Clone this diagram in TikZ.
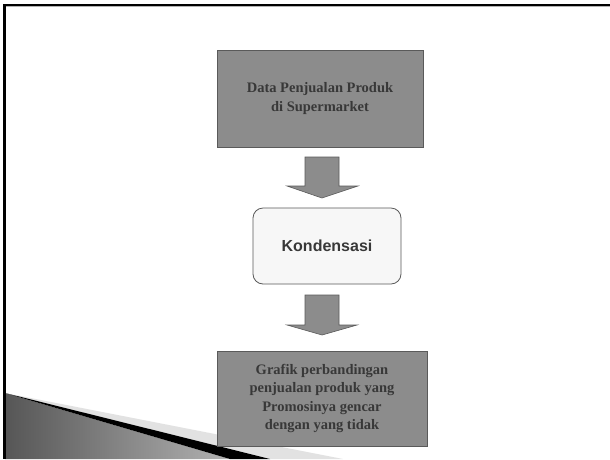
\documentclass[tikz,border=0pt]{standalone}
\usepackage{fontspec}
\setmainfont{Liberation Serif}
\newfontfamily\labelsans{Liberation Sans}
\definecolor{boxgray}{HTML}{8C8C8C}
\definecolor{edgegray}{HTML}{5A5A5A}
\definecolor{inkgray}{HTML}{383838}
\definecolor{softfill}{HTML}{F7F7F7}
\definecolor{wedgedark}{HTML}{565656}
\definecolor{wedgelight}{HTML}{B2B2B2}
\definecolor{stripelight}{HTML}{E2E2E2}
\tikzset{
  graybox/.style={draw=edgegray, line width=0.8pt, fill=boxgray, text=inkgray,
    align=center, inner sep=0pt,
    font=\fontsize{14.5}{18.5}\selectfont\bfseries},
  roundbox/.style={draw=edgegray, line width=0.8pt, fill=softfill, rounded corners=10pt,
    text=inkgray, inner sep=0pt, font=\labelsans\fontsize{16}{19}\selectfont\bfseries},
  blockarrow/.style={draw=edgegray, line width=0.6pt, fill=boxgray},
}
\begin{document}
\begin{tikzpicture}[x=1pt, y=-1pt]
  \useasboundingbox (0,0) rectangle (610,459);
  \fill[white] (0,0) rectangle (610,459);

  % decorative wedge in the lower left corner
  \shade[left color=wedgedark, right color=wedgelight]
    (5,393) -- (230,459) -- (5,459) -- cycle;
  \fill[stripelight] (5,393) -- (343,459) -- (270,459) -- cycle;
  \fill[black] (5,393) -- (270,459) -- (230,459) -- cycle;

  % slide frame
  \draw[black, line width=2pt] (3,5) -- (610,5);
  \draw[gray!60, line width=0.8pt] (6,6.8) -- (610,6.8);
  \draw[black, line width=3pt] (4.5,4) -- (4.5,459);

  % flow boxes
  \node[graybox, minimum width=206pt, minimum height=97pt] (data) at (320,98.5)
    {Data Penjualan Produk\\di Supermarket};
  \node[roundbox, minimum width=148pt, minimum height=76pt] (kond) at (327,246)
    {Kondensasi};
  \node[graybox, minimum width=210pt, minimum height=95pt] (grafik) at (322,398.5)
    {Grafik perbandingan\\penjualan produk yang\\Promosinya gencar\\dengan yang tidak};

  % block arrows between the boxes
  \draw[blockarrow] (305,157) -- (339,157) -- (339,186) -- (358,186) -- (322,198)
    -- (287,186) -- (305,186) -- cycle;
  \draw[blockarrow] (305,295) -- (339,295) -- (339,325) -- (357,325) -- (322,335)
    -- (287,325) -- (305,325) -- cycle;
\end{tikzpicture}
\end{document}
